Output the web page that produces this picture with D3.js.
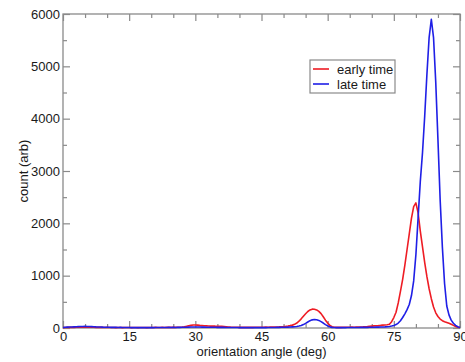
<!DOCTYPE html>
<html>
<head>
<meta charset="utf-8">
<script src="https://cdn.jsdelivr.net/npm/d3@7"></script>
<style>
  html, body { margin: 0; padding: 0; background: #fff; }
  svg { display: block; font-family: "Liberation Sans", Arial, Helvetica, sans-serif; }
</style>
</head>
<body>
<svg id="chart" width="465" height="362"></svg>
<script>
// Orientation-angle histograms, 0.5 degree bins from 0 to 90 degrees
const angleStart = 0, angleStep = 0.5;

const earlyTime = [
  8, 10, 12, 11, 13, 12, 14, 13, 15, 14,
  16, 15, 14, 15, 13, 12, 13, 11, 12, 10,
  11, 10, 9, 10, 8, 9, 10, 8, 9, 10,
  9, 8, 10, 9, 8, 9, 10, 9, 8, 10,
  9, 10, 11, 9, 10, 11, 10, 12, 11, 12,
  13, 12, 14, 15, 18, 24, 32, 42, 50, 56,
  58, 55, 50, 46, 42, 40, 38, 36, 37, 35,
  34, 33, 31, 28, 24, 20, 17, 15, 14, 13,
  12, 13, 12, 11, 12, 13, 12, 14, 13, 14,
  15, 14, 16, 15, 17, 16, 18, 20, 22, 25,
  28, 32, 38, 45, 55, 70, 95, 130, 175, 225,
  272, 315, 345, 360, 358, 345, 318, 275, 215, 150,
  95, 50, 25, 15, 12, 13, 12, 14, 13, 15,
  14, 16, 15, 17, 18, 20, 22, 25, 28, 32,
  36, 40, 43, 46, 50, 55, 58, 62, 70, 120,
  200, 300, 480, 700, 930, 1200, 1500, 1800, 2100, 2320,
  2390, 2200, 1850, 1550, 1250, 980, 750, 560, 400, 290,
  220, 170, 140, 120, 105, 90, 70, 50, 30, 15,
  8
];

const lateTime = [
  10, 14, 16, 18, 20, 22, 24, 26, 28, 30,
  31, 30, 28, 27, 25, 22, 20, 18, 16, 15,
  14, 13, 12, 12, 11, 10, 11, 10, 9, 10,
  9, 8, 9, 8, 9, 8, 9, 8, 9, 8,
  9, 8, 9, 10, 9, 10, 9, 10, 11, 10,
  11, 10, 11, 12, 13, 14, 15, 17, 18, 19,
  20, 19, 18, 17, 16, 15, 14, 14, 13, 13,
  12, 12, 11, 11, 10, 10, 10, 9, 9, 9,
  8, 9, 8, 8, 9, 8, 8, 9, 8, 9,
  8, 9, 8, 9, 9, 10, 10, 11, 12, 13,
  14, 15, 17, 19, 22, 25, 30, 38, 47, 65,
  88, 115, 140, 156, 162, 158, 145, 122, 95, 65,
  40, 22, 12, 9, 8, 9, 8, 9, 8, 9,
  9, 10, 9, 10, 10, 11, 11, 12, 12, 13,
  14, 15, 16, 17, 18, 20, 22, 25, 30, 38,
  48, 65, 95, 140, 200, 270, 350, 450, 620, 900,
  1400, 2100, 2800, 3350, 4050, 4850, 5550, 5900, 5550, 4700,
  3600, 2450, 1550, 850, 420, 250, 150, 90, 50, 25,
  10
];

const xMajorTicks = [0, 15, 30, 45, 60, 75, 90];
const xMinorTicks = [5, 10, 20, 25, 35, 40, 50, 55, 65, 70, 80, 85];
const yMajorTicks = [0, 1000, 2000, 3000, 4000, 5000, 6000];
const yMinorTicks = [500, 1500, 2500, 3500, 4500, 5500];

const seriesNames = ["early time", "late time"];
const seriesColors = ["#ee1c24", "#1f1fe6"];

const svg = d3.select("#chart");
const margin = { left: 63, right: 5, top: 14, bottom: 34 };
const W = 465, H = 362;

const x = d3.scaleLinear().domain([0, 90]).range([margin.left, W - margin.right]);
const y = d3.scaleLinear().domain([0, 6000]).range([H - margin.bottom, margin.top]);

const axisColor = "#8a8a8a";
const textColor = "#1a1a1a";

// Frame
svg.append("rect")
  .attr("x", x(0)).attr("y", y(6000))
  .attr("width", x(90) - x(0)).attr("height", y(0) - y(6000))
  .attr("fill", "none").attr("stroke", axisColor).attr("stroke-width", 1.3);

function styleAxis(g) {
  g.select(".domain").remove();
  g.selectAll(".tick line").attr("stroke", axisColor).attr("stroke-width", 1.2);
  g.selectAll(".tick text").attr("fill", textColor).attr("font-size", 13);
}

// Bottom axis (inward ticks with labels)
svg.append("g").attr("transform", `translate(0,${y(0)})`)
  .call(d3.axisBottom(x).tickValues(xMajorTicks).tickSize(-7).tickPadding(4).tickFormat(d3.format("d")))
  .call(styleAxis);
svg.append("g").attr("transform", `translate(0,${y(0)})`)
  .call(d3.axisBottom(x).tickValues(xMinorTicks).tickSize(-4).tickFormat(""))
  .call(styleAxis);

// Top axis (mirrored ticks)
svg.append("g").attr("transform", `translate(0,${y(6000)})`)
  .call(d3.axisTop(x).tickValues(xMajorTicks).tickSize(-7).tickFormat(""))
  .call(styleAxis);
svg.append("g").attr("transform", `translate(0,${y(6000)})`)
  .call(d3.axisTop(x).tickValues(xMinorTicks).tickSize(-4).tickFormat(""))
  .call(styleAxis);

// Left axis
svg.append("g").attr("transform", `translate(${x(0)},0)`)
  .call(d3.axisLeft(y).tickValues(yMajorTicks).tickSize(-7).tickPadding(3).tickFormat(d3.format("d")))
  .call(styleAxis);
svg.append("g").attr("transform", `translate(${x(0)},0)`)
  .call(d3.axisLeft(y).tickValues(yMinorTicks).tickSize(-4).tickFormat(""))
  .call(styleAxis);

// Right axis (mirrored ticks)
svg.append("g").attr("transform", `translate(${x(90)},0)`)
  .call(d3.axisRight(y).tickValues(yMajorTicks).tickSize(-7).tickFormat(""))
  .call(styleAxis);
svg.append("g").attr("transform", `translate(${x(90)},0)`)
  .call(d3.axisRight(y).tickValues(yMinorTicks).tickSize(-4).tickFormat(""))
  .call(styleAxis);

// Axis titles
svg.append("text")
  .attr("x", (x(0) + x(90)) / 2).attr("y", 356)
  .attr("text-anchor", "middle").attr("font-size", 13).attr("fill", textColor)
  .text("orientation angle (deg)");

svg.append("text")
  .attr("transform", `translate(28,${(y(0) + y(6000)) / 2}) rotate(-90)`)
  .attr("text-anchor", "middle").attr("font-size", 13).attr("fill", textColor)
  .text("count (arb)");

// Curves
const line = d3.line()
  .x((d, i) => x(angleStart + i * angleStep))
  .y(d => y(d));

[earlyTime, lateTime].forEach((vals, k) => {
  svg.append("path")
    .datum(vals)
    .attr("d", line)
    .attr("fill", "none")
    .attr("stroke", seriesColors[k])
    .attr("stroke-width", 1.6)
    .attr("stroke-linejoin", "round");
});

// Legend
const legend = svg.append("g").attr("transform", "translate(310,60)");
legend.append("rect")
  .attr("width", 85).attr("height", 33)
  .attr("fill", "#fff").attr("stroke", axisColor).attr("stroke-width", 1.2);
seriesNames.forEach((name, k) => {
  const ly = 9 + k * 15;
  legend.append("line")
    .attr("x1", 3).attr("x2", 19).attr("y1", ly).attr("y2", ly)
    .attr("stroke", seriesColors[k]).attr("stroke-width", 1.6);
  legend.append("text")
    .attr("x", 27).attr("y", ly).attr("dy", "0.35em")
    .attr("font-size", 13).attr("fill", textColor)
    .text(name);
});
</script>
</body>
</html>
